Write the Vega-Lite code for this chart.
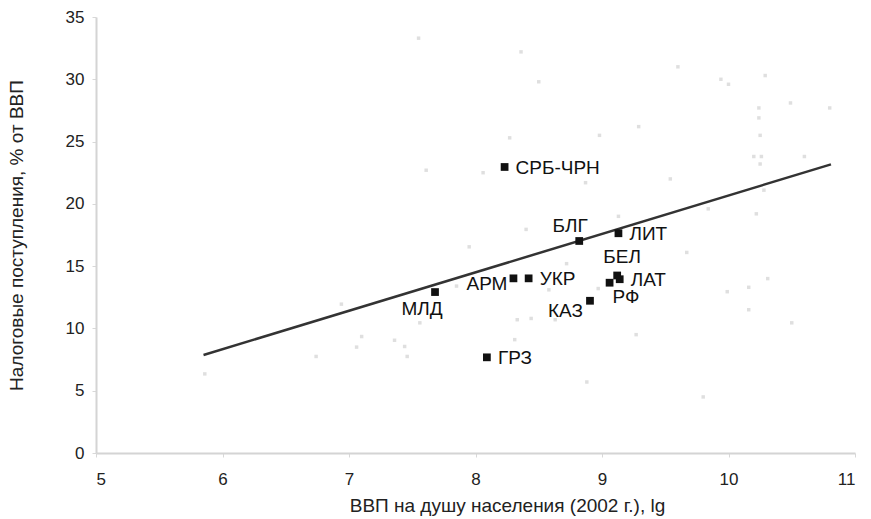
{
  "$schema": "https://vega.github.io/schema/vega-lite/v6.json",
  "width": 759,
  "height": 436,
  "autosize": {"type": "none"},
  "padding": {"left": 96, "top": 17, "right": 16, "bottom": 66},
  "background": "white",
  "config": {
    "view": {"stroke": null},
    "font": "Liberation Sans",
    "axis": {
      "grid": false,
      "domainColor": "#d4d4d4",
      "domainWidth": 2,
      "tickColor": "#d8d8d8",
      "tickSize": 4,
      "labelFont": "Liberation Sans",
      "labelFontSize": 17,
      "labelColor": "#222222",
      "titleFont": "Liberation Sans",
      "titleFontSize": 19,
      "titleFontWeight": "normal",
      "titleColor": "#222222"
    }
  },
  "datasets": {
    "others": [
      {"gdp": 7.55, "tax": 33.3}, {"gdp": 7.61, "tax": 22.7}, {"gdp": 8.36, "tax": 32.2},
      {"gdp": 8.5, "tax": 29.8}, {"gdp": 9.6, "tax": 31.0}, {"gdp": 9.94, "tax": 30.0},
      {"gdp": 10.0, "tax": 29.6}, {"gdp": 10.29, "tax": 30.3}, {"gdp": 10.49, "tax": 28.1},
      {"gdp": 10.24, "tax": 27.7}, {"gdp": 10.8, "tax": 27.7}, {"gdp": 10.24, "tax": 26.9},
      {"gdp": 9.29, "tax": 26.2}, {"gdp": 8.98, "tax": 25.5}, {"gdp": 10.25, "tax": 25.5},
      {"gdp": 8.27, "tax": 25.3}, {"gdp": 10.2, "tax": 23.8}, {"gdp": 10.26, "tax": 23.8},
      {"gdp": 10.25, "tax": 23.2}, {"gdp": 10.6, "tax": 23.8}, {"gdp": 8.06, "tax": 22.5},
      {"gdp": 8.87, "tax": 21.7}, {"gdp": 9.54, "tax": 22.0}, {"gdp": 10.28, "tax": 21.1},
      {"gdp": 9.84, "tax": 19.6}, {"gdp": 10.22, "tax": 19.2}, {"gdp": 9.13, "tax": 19.0},
      {"gdp": 8.4, "tax": 17.95}, {"gdp": 7.95, "tax": 16.55}, {"gdp": 7.85, "tax": 13.4},
      {"gdp": 8.72, "tax": 15.2}, {"gdp": 8.58, "tax": 13.1}, {"gdp": 8.97, "tax": 13.2},
      {"gdp": 8.33, "tax": 10.7}, {"gdp": 8.44, "tax": 10.8}, {"gdp": 8.63, "tax": 10.7},
      {"gdp": 8.31, "tax": 9.1}, {"gdp": 8.88, "tax": 5.7}, {"gdp": 9.27, "tax": 9.5},
      {"gdp": 9.8, "tax": 4.5}, {"gdp": 9.67, "tax": 16.1}, {"gdp": 9.99, "tax": 12.95},
      {"gdp": 10.16, "tax": 13.3}, {"gdp": 10.31, "tax": 14.0}, {"gdp": 10.16, "tax": 11.5},
      {"gdp": 10.5, "tax": 10.45}, {"gdp": 5.86, "tax": 6.35}, {"gdp": 6.94, "tax": 11.95},
      {"gdp": 6.74, "tax": 7.75}, {"gdp": 7.1, "tax": 9.35}, {"gdp": 7.06, "tax": 8.5},
      {"gdp": 7.36, "tax": 9.05}, {"gdp": 7.44, "tax": 8.55}, {"gdp": 7.46, "tax": 7.75},
      {"gdp": 7.56, "tax": 10.45}
    ],
    "countries": [
      {"name": "СРБ-ЧРН", "gdp": 8.23, "tax": 22.96},
      {"name": "БЛГ", "gdp": 8.82, "tax": 17.02},
      {"name": "ЛИТ", "gdp": 9.13, "tax": 17.64},
      {"name": "АРМ", "gdp": 8.3, "tax": 14.02},
      {"name": "УКР", "gdp": 8.42, "tax": 14.02},
      {"name": "БЕЛ", "gdp": 9.12, "tax": 14.25},
      {"name": "ЛАТ", "gdp": 9.14, "tax": 13.95},
      {"name": "РФ", "gdp": 9.06, "tax": 13.67},
      {"name": "КАЗ", "gdp": 8.905, "tax": 12.22},
      {"name": "МЛД", "gdp": 7.68, "tax": 12.92},
      {"name": "ГРЗ", "gdp": 8.09, "tax": 7.68}
    ],
    "trend": [
      {"gdp": 5.85, "tax": 7.87},
      {"gdp": 10.81, "tax": 23.17}
    ]
  },
  "encoding": {
    "x": {
      "field": "gdp", "type": "quantitative",
      "scale": {"domain": [5, 11], "nice": false, "zero": false},
      "axis": {
        "title": "ВВП на душу населения (2002 г.), lg",
        "values": [5, 6, 7, 8, 9, 10, 11],
        "labelPadding": 14,
        "titleX": 411, "titleY": 52,
        "titleAnchor": null, "titleAlign": "center", "titleBaseline": "middle"
      }
    },
    "y": {
      "field": "tax", "type": "quantitative",
      "scale": {"domain": [0, 35], "nice": false},
      "axis": {
        "title": "Налоговые поступления, % от ВВП",
        "values": [0, 5, 10, 15, 20, 25, 30, 35],
        "labelPadding": 8,
        "titleX": -80, "titleY": 218, "titleAngle": -90,
        "titleAlign": "center", "titleBaseline": "middle"
      }
    }
  },
  "layer": [
    {
      "data": {"name": "others"},
      "mark": {"type": "point", "shape": "square", "filled": true, "size": 12, "color": "#d2d2d2"}
    },
    {
      "data": {"name": "trend"},
      "mark": {"type": "line", "color": "#333333", "strokeWidth": 2.5}
    },
    {
      "data": {"name": "countries"},
      "mark": {"type": "point", "shape": "square", "filled": true, "size": 60, "color": "#111111", "opacity": 1}
    },
    {
      "data": {"name": "countries"},
      "transform": [{"filter": {"field": "name", "oneOf": ["СРБ-ЧРН", "ЛИТ", "ЛАТ", "УКР", "ГРЗ"]}}],
      "mark": {"type": "text", "align": "left", "baseline": "middle", "dx": 11, "dy": 1, "fontSize": 19, "color": "#111111"},
      "encoding": {"text": {"field": "name"}}
    },
    {
      "data": {"name": "countries"},
      "transform": [{"filter": {"field": "name", "oneOf": ["БЛГ"]}}],
      "mark": {"type": "text", "align": "center", "baseline": "middle", "dx": -9, "dy": -15, "fontSize": 19, "color": "#111111"},
      "encoding": {"text": {"field": "name"}}
    },
    {
      "data": {"name": "countries"},
      "transform": [{"filter": {"field": "name", "oneOf": ["БЕЛ"]}}],
      "mark": {"type": "text", "align": "center", "baseline": "middle", "dx": 5, "dy": -18, "fontSize": 19, "color": "#111111"},
      "encoding": {"text": {"field": "name"}}
    },
    {
      "data": {"name": "countries"},
      "transform": [{"filter": {"field": "name", "oneOf": ["РФ"]}}],
      "mark": {"type": "text", "align": "left", "baseline": "middle", "dx": 3, "dy": 14, "fontSize": 19, "color": "#111111"},
      "encoding": {"text": {"field": "name"}}
    },
    {
      "data": {"name": "countries"},
      "transform": [{"filter": {"field": "name", "oneOf": ["АРМ"]}}],
      "mark": {"type": "text", "align": "right", "baseline": "middle", "dx": -6, "dy": 6, "fontSize": 19, "color": "#111111"},
      "encoding": {"text": {"field": "name"}}
    },
    {
      "data": {"name": "countries"},
      "transform": [{"filter": {"field": "name", "oneOf": ["КАЗ"]}}],
      "mark": {"type": "text", "align": "right", "baseline": "middle", "dx": -7, "dy": 10, "fontSize": 19, "color": "#111111"},
      "encoding": {"text": {"field": "name"}}
    },
    {
      "data": {"name": "countries"},
      "transform": [{"filter": {"field": "name", "oneOf": ["МЛД"]}}],
      "mark": {"type": "text", "align": "center", "baseline": "middle", "dx": -13, "dy": 17, "fontSize": 19, "color": "#111111"},
      "encoding": {"text": {"field": "name"}}
    }
  ]
}
